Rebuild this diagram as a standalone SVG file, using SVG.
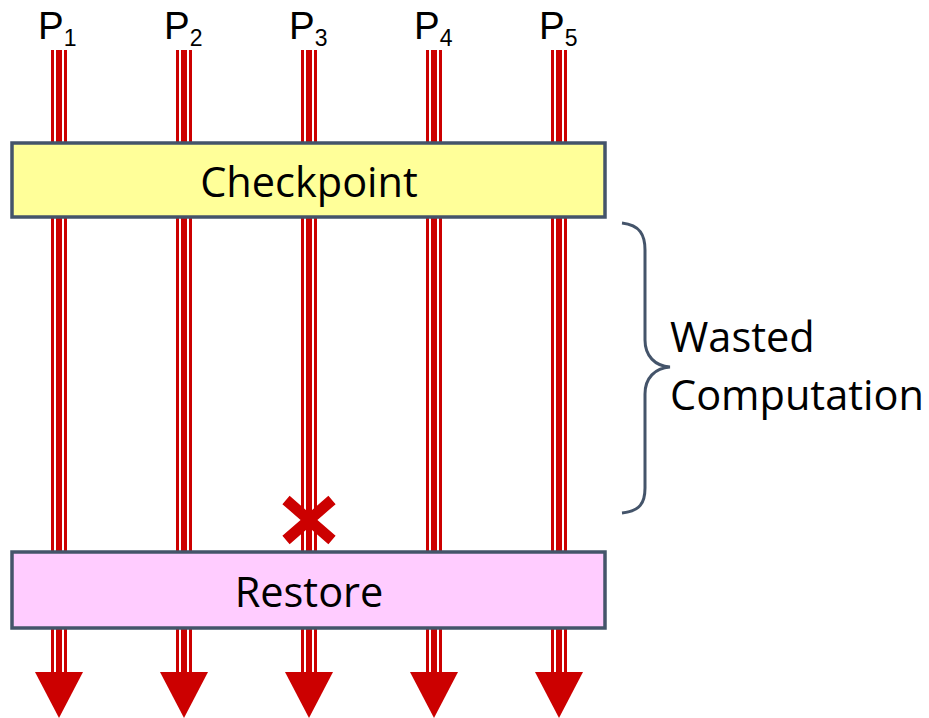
<svg xmlns="http://www.w3.org/2000/svg" width="929" height="718" viewBox="0 0 929 718">
<style>
.lo{stroke:#CC0000;stroke-width:16;fill:none}
.lw{stroke:#FFFFFF;stroke-width:10;fill:none}
.li{stroke:#CC0000;stroke-width:6;fill:none}
.ah{fill:#CC0000}
.box{stroke:#44546A;stroke-width:3.5}
.lbl{font-family:"Open Sans","Liberation Sans",sans-serif;font-size:41.5px;fill:#000}
.p{font-family:"Liberation Sans",Arial,sans-serif;fill:#000}
</style>
<defs>
<g id="proc">
<line class="lo" x1="0" y1="50" x2="0" y2="674"/>
<line class="lw" x1="0" y1="50" x2="0" y2="674"/>
<line class="li" x1="0" y1="50" x2="0" y2="674"/>
<polygon class="ah" points="-24,672 24,672 0,718"/>
</g>
</defs>
<g id="connectors">
<use href="#proc" x="59"/>
<use href="#proc" x="184"/>
<use href="#proc" x="309"/>
<use href="#proc" x="434"/>
<use href="#proc" x="559"/>
</g>
<g id="labels">
<text class="p" x="38" y="39" font-size="38.5">P<tspan font-size="23" dy="7">1</tspan></text>
<text class="p" x="164" y="39" font-size="38.5">P<tspan font-size="23" dy="7">2</tspan></text>
<text class="p" x="289" y="39" font-size="38.5">P<tspan font-size="23" dy="7">3</tspan></text>
<text class="p" x="414" y="39" font-size="38.5">P<tspan font-size="23" dy="7">4</tspan></text>
<text class="p" x="539" y="39" font-size="38.5">P<tspan font-size="23" dy="7">5</tspan></text>
</g>
<g id="checkpoint">
<rect class="box" x="12" y="143" width="593" height="74" fill="#FFFF99"/>
<text class="lbl" x="309" y="197" text-anchor="middle">Checkpoint</text>
</g>
<g id="failure">
<path d="M286,500 L332,540 M332,500 L286,540" stroke="#CC0000" stroke-width="11" fill="none"/>
</g>
<g id="restore">
<rect class="box" x="12" y="552" width="593" height="76" fill="#FFCCFF"/>
<text class="lbl" x="309" y="607" text-anchor="middle">Restore</text>
</g>
<g id="wasted">
<path d="M622,223 C640,225 645,235 645,250 L645,340 C645,356 655,366 670,367 C655,368 645,378 645,394 L645,488 C645,503 640,511 622,513" stroke="#44546A" stroke-width="3" fill="none"/>
<text class="lbl" x="670" y="352">Wasted</text>
<text class="lbl" x="670" y="410">Computation</text>
</g>
</svg>
